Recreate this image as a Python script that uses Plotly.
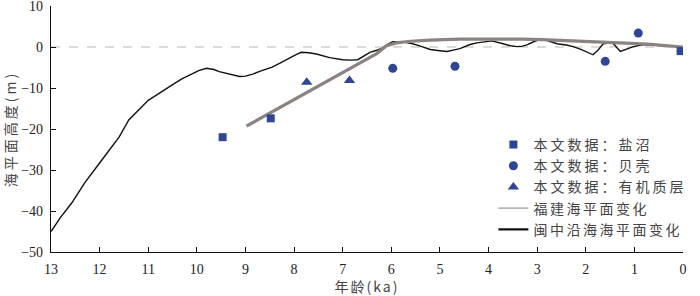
import plotly.graph_objects as go

# 闽中沿海 / regional curve (thin black)
black_age = [13.0, 12.8, 12.57, 12.3, 12.0, 11.8, 11.6, 11.4, 11.2, 11.0, 10.8, 10.63, 10.45, 10.3, 10.1,
             9.95, 9.8, 9.65, 9.54, 9.33, 9.12, 9.0, 8.85, 8.65, 8.45, 8.3, 8.09, 7.95, 7.85, 7.7, 7.54,
             7.4, 7.27, 7.0, 6.85, 6.69, 6.55, 6.44, 6.3, 6.18, 6.05, 5.97, 5.78, 5.56, 5.4, 5.2, 5.0,
             4.86, 4.7, 4.59, 4.38, 4.24, 3.93, 3.8, 3.7, 3.55, 3.41, 3.3, 3.21, 3.05, 2.9, 2.75, 2.59,
             2.4, 2.26, 2.1, 1.95, 1.85, 1.75, 1.64, 1.5, 1.43, 1.29, 1.15, 1.02, 0.8, 0.5, 0.25, 0.0]
black_sl = [-45, -41.5, -38, -33, -28.3, -25, -22, -17.8, -15.5, -13, -11.5, -10.1, -8.8, -7.7, -6.5,
            -5.7, -5.2, -5.5, -6, -6.6, -7.2, -7.1, -6.6, -5.7, -4.9, -4.0, -2.6, -1.8, -1.3, -1.4, -1.7,
            -2.2, -2.6, -3.1, -3.2, -3.1, -2.1, -1.3, -0.8, -0.2, 0.8, 1.3, 1.3, 0.8, 0.2, -0.6, -0.9,
            -1.1, -0.7, -0.4, 0.6, 1.0, 1.5, 1.2, 0.8, 0.3, 0.1, 0.2, 0.5, 1.4, 2.0, 1.4, 0.8,
            0.5, 0.1, -0.6, -1.4, -1.9, -0.8, 0.8, 1.0, 0.8, -1.1, -0.5, 0.1, 0.6, 0.4, 0.2, 0.0]

# thick gray curve
gray_age = [8.98, 6.3, 6.1, 5.9, 5.6, 5.2, 4.6, 3.9, 3.3, 2.9, 2.4, 1.85, 1.3, 0.73, 0.3, 0.0]
gray_sl = [-19.3, -1.6, 0.3, 1.0, 1.4, 1.7, 1.9, 2.0, 1.9, 1.8, 1.6, 1.3, 1.0, 0.7, 0.3, 0.0]

# data points
marsh_age = [9.47, 8.48, 0.05]
marsh_sl = [-22.0, -17.4, -1.0]
shell_age = [5.97, 4.69, 1.60, 0.92]
shell_sl = [-5.2, -4.7, -3.5, 3.4]
org_age = [7.74, 6.86]
org_sl = [-8.6, -8.2]

xticks = list(range(0, 14))
yticks = [10, 0, -10, -20, -30, -40, -50]

legend_names = ["本文数据：盐沼", "本文数据：贝壳", "本文数据：有机质层", "福建海平面变化", "闽中沿海海平面变化"]
x_title = "年龄(ka)"
y_title = "海平面高度(m)"

blue = "#2f4595"
serif = "Liberation Serif"
cjk = "Noto Sans CJK SC"


def spaced(t, px):
    return f'<span style="letter-spacing:{px}px">{t}</span>'


fig = go.Figure()
# zero reference line
fig.add_trace(go.Scatter(x=[13, 0], y=[0, 0], mode="lines",
                         line=dict(color="#bfb3b3", width=1.2, dash="dash"),
                         showlegend=False, hoverinfo="skip"))
fig.add_trace(go.Scatter(x=black_age, y=black_sl, mode="lines",
                         line=dict(color="#111111", width=1.4), showlegend=False))
fig.add_trace(go.Scatter(x=gray_age, y=gray_sl, mode="lines",
                         line=dict(color="#8c8282", width=3.2), showlegend=False))

fig.add_trace(go.Scatter(x=marsh_age, y=marsh_sl, mode="markers", name=spaced(legend_names[0], 3),
                         marker=dict(symbol="square", size=8, color=blue)))
fig.add_trace(go.Scatter(x=shell_age, y=shell_sl, mode="markers", name=spaced(legend_names[1], 3),
                         marker=dict(symbol="circle", size=9, color=blue)))
fig.add_trace(go.Scatter(x=org_age, y=org_sl, mode="markers", name=spaced(legend_names[2], 3),
                         marker=dict(symbol="triangle-up", size=10, color=blue)))
# legend entries for the curves (styled as in the original key)
fig.add_trace(go.Scatter(x=[None], y=[None], mode="lines", name=spaced(legend_names[3], 2.5),
                         line=dict(color="#a09898", width=1.2)))
fig.add_trace(go.Scatter(x=[None], y=[None], mode="lines", name=spaced(legend_names[4], 2.5),
                         line=dict(color="#111111", width=2.2)))

fig.update_layout(
    width=700, height=296,
    margin=dict(l=51, r=17, t=6, b=44),
    paper_bgcolor="white", plot_bgcolor="white",
    showlegend=True,
    legend=dict(x=0.70, y=0.50, xanchor="left", yanchor="top",
                font=dict(family=cjk, size=14, color="#444444"),
                bgcolor="rgba(0,0,0,0)", tracegroupgap=0, itemsizing="trace"),
)
fig.update_xaxes(range=[13, 0], tickvals=xticks, ticktext=[str(v) for v in xticks],
                 automargin=False, ticklabeloverflow="allow",
                 showgrid=False, zeroline=False, showline=True, linecolor="#111111", linewidth=1.2,
                 ticks="inside", ticklen=5, tickcolor="#111111", tickwidth=1.2,
                 ticklabelstandoff=4,
                 tickfont=dict(family=serif, size=14, color="#222222"),
                 title=dict(text=spaced(x_title, 2), font=dict(family=cjk, size=14, color="#444444"), standoff=3))
fig.update_yaxes(range=[-50, 10], tickvals=yticks,
                 automargin=False, ticklabeloverflow="allow",
                 showgrid=False, zeroline=False, showline=True, linecolor="#111111", linewidth=1.2,
                 ticks="inside", ticklen=5, tickcolor="#111111", tickwidth=1.2,
                 ticklabelstandoff=4,
                 tickfont=dict(family=serif, size=14, color="#222222"),
                 title=dict(text=spaced(y_title, 3), font=dict(family=cjk, size=14, color="#444444"), standoff=5))

fig.write_html("out.html", config={"displayModeBar": False},
               post_script="document.body.style.margin='0';document.body.style.overflow='hidden';")
